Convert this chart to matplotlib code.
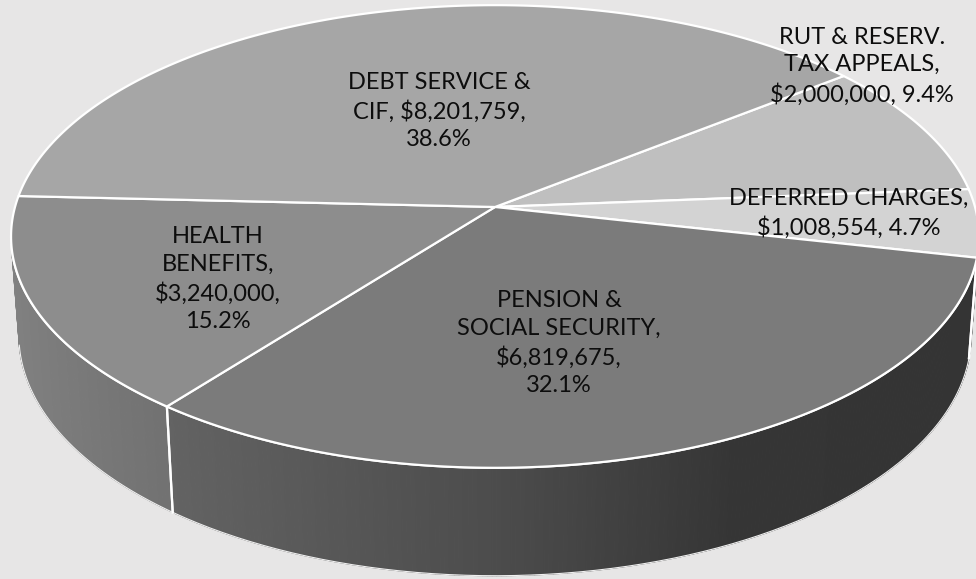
import numpy as np
import matplotlib
matplotlib.use("Agg")
import matplotlib.pyplot as plt
from matplotlib.patches import Polygon

# slices in clockwise order, starting at the RUT / DEBT boundary
categories = ["RUT & RESERV. TAX APPEALS", "DEFERRED CHARGES", "PENSION & SOCIAL SECURITY",
              "HEALTH BENEFITS", "DEBT SERVICE & CIF"]
values = [2000000, 1008554, 6819675, 3240000, 8201759]
name_lines = ["RUT & RESERV.\nTAX APPEALS,", "DEFERRED CHARGES,", "PENSION &\nSOCIAL SECURITY,",
              "HEALTH\nBENEFITS,", "DEBT SERVICE &\nCIF,"]
value_sep = ["\n", "\n", "\n", "\n", " "]
pct_sep = [", ", ", ", ",\n", ",\n", ",\n"]
top_colors = ["#bfbfbf", "#d3d3d3", "#7b7b7b", "#8d8d8d", "#a6a6a6"]

# layout / projection
label_xy = [(862, 66), (849, 213), (559, 343), (218, 279), (439, 111)]
start_angle = 38.4
cx, cy = 495, 207
elev = np.radians(28.3)
s, c = np.sin(elev), np.cos(elev)
D = 6.91
f = 480 * D
H = 0.237
bg = "#e7e6e6"


def proj(u, v, h):
    yc = v * s - h * c
    zc = D - v * c - h * s
    return cx + f * u / zc, cy + f * yc / zc


def rim(theta_deg, h=0.0):
    t = np.radians(theta_deg)
    return proj(np.cos(t), -np.sin(t), h)


def wall_shade(u):
    return np.interp(u, [-1, -0.6, 0, 0.45, 1], [0.92, 0.8, 0.62, 0.43, 0.42])


total = sum(values)
pcts = [v / total * 100 for v in values]
spans = [p * 3.6 for p in pcts]

fig = plt.figure(figsize=(9.76, 5.79), dpi=100)
fig.patch.set_facecolor(bg)
ax = fig.add_axes([0, 0, 1, 1])
ax.set_facecolor(bg)
ax.set_xlim(0, 976)
ax.set_ylim(579, 0)
ax.axis("off")

# visible part of the outer wall
vis_lo = 180 + np.degrees(np.arcsin(1 / (D * c)))
vis_hi = 360 - np.degrees(np.arcsin(1 / (D * c)))

a0 = start_angle
bounds = []
for i in range(len(values)):
    a1 = a0 - spans[i]
    for shift in (0, 360, -360):
        lo2, hi2 = max(a1 + shift, vis_lo), min(a0 + shift, vis_hi)
        if hi2 <= lo2:
            continue
        base = int(top_colors[i][1:3], 16) / 255
        ts = np.linspace(lo2, hi2, max(int((hi2 - lo2) * 2), 2) + 1)
        for k in range(len(ts) - 1):
            tm = (ts[k] + ts[k + 1]) / 2
            g = base * wall_shade(np.cos(np.radians(tm)))
            quad = [rim(ts[k]), rim(ts[k + 1]), rim(ts[k + 1], -H), rim(ts[k], -H)]
            ax.add_patch(Polygon(quad, closed=True, facecolor=(g, g, g),
                                 edgecolor=(g, g, g), lw=0.8, zorder=1))
        tb = np.linspace(lo2, hi2, 200)
        bx, by = zip(*[rim(t, -H) for t in tb])
        ax.plot(bx, by, color="#f0f0f0", lw=0.8, zorder=2)
        tx, ty = zip(*[rim(t) for t in tb])
        ax.plot(tx, ty, color="white", lw=1.6, zorder=2)
        for edge in (lo2, hi2):
            if vis_lo + 0.5 < edge < vis_hi - 0.5:
                ex, ey = zip(rim(edge), rim(edge, -H))
                ax.plot(ex, ey, color="white", lw=1.6, zorder=2)
    bounds.append((a0, a1))
    a0 = a1

# top faces
for i, (hi, lo) in enumerate(bounds):
    ts = np.linspace(hi, lo, 200)
    pts = [proj(0, 0, 0)] + [rim(t) for t in ts]
    ax.add_patch(Polygon(pts, closed=True, facecolor=top_colors[i], edgecolor="white",
                         lw=1.6, joinstyle="round", zorder=3))

# data labels
for i in range(len(values)):
    txt = name_lines[i] + value_sep[i] + "${:,}".format(values[i]) + pct_sep[i] + "{:.1f}%".format(pcts[i])
    ax.text(label_xy[i][0], label_xy[i][1], txt, ha="center", va="center", fontsize=17,
            family=["Lato", "DejaVu Sans"], color="#0d0d0d", linespacing=1.4, zorder=5)

fig.savefig("out.png", dpi=100, facecolor=bg)
